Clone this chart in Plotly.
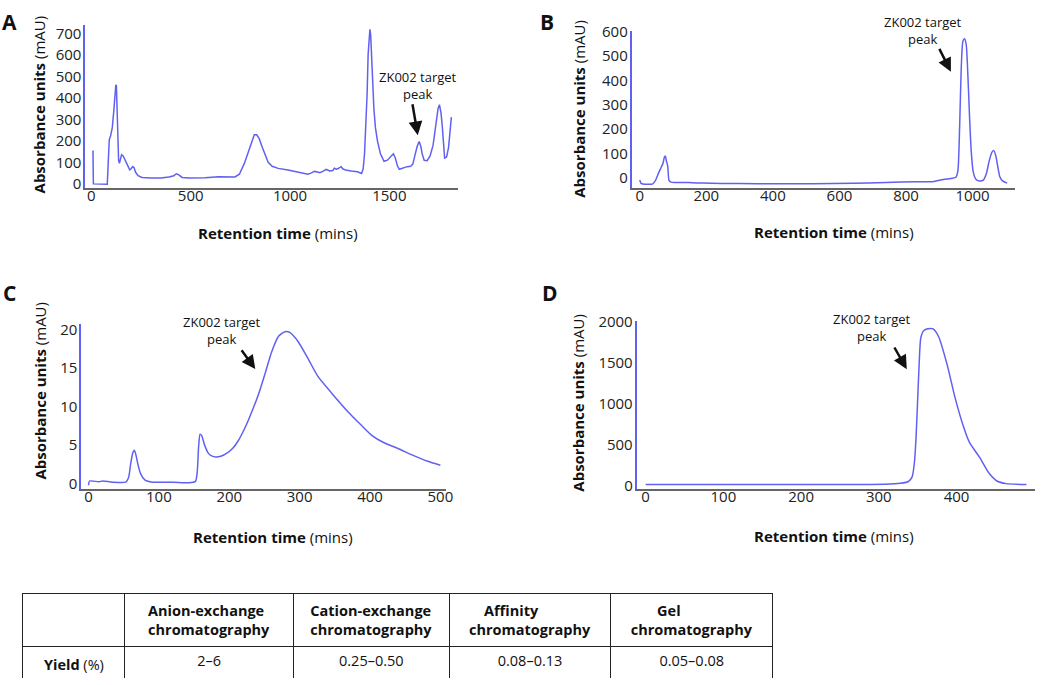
import plotly.graph_objects as go

# panel A - anion exchange
a_time = [8, 10, 80, 86, 90, 97, 105, 112, 118, 123, 126, 129, 133, 137, 141, 146, 152, 160, 168, 176,
          185, 193, 200, 208, 215, 222, 235, 255, 300, 350, 390, 415, 428, 440, 457, 490, 573, 640, 723, 745,
          770, 790, 808, 820, 832, 845, 860, 875, 890, 910, 940, 990, 1040, 1070, 1090, 1105, 1123, 1138, 1150, 1165,
          1182, 1200, 1215, 1223, 1232, 1240, 1257, 1265, 1280, 1307, 1340, 1360, 1368, 1375, 1382, 1388, 1393, 1398, 1402, 1406,
          1410, 1416, 1422, 1430, 1440, 1455, 1473, 1490, 1505, 1520, 1530, 1540, 1550, 1570, 1590, 1607, 1618, 1628, 1640, 1650,
          1658, 1665, 1675, 1690, 1705, 1720, 1735, 1745, 1752, 1760, 1767, 1772, 1778, 1788, 1798, 1806, 1812]
a_abs = [155, 0, -2, 150, 205, 225, 260, 330, 420, 460, 455, 330, 200, 110, 95, 120, 135, 130, 115, 95,
         75, 65, 70, 80, 75, 55, 38, 30, 27, 27, 32, 38, 47, 42, 30, 27, 29, 33, 32, 45,
         95, 150, 200, 228, 228, 210, 170, 130, 100, 82, 72, 64, 54, 50, 45, 50, 58, 55, 52, 58,
         67, 60, 62, 73, 68, 70, 80, 70, 64, 60, 56, 48, 70, 140, 260, 420, 600, 705, 718, 690,
         600, 460, 350, 260, 200, 140, 105, 110, 125, 140, 120, 85, 68, 75, 80, 82, 92, 130, 175, 197,
         175, 140, 110, 108, 130, 180, 280, 350, 368, 330, 260, 170, 120, 125, 170, 250, 310]

# panel B - cation exchange
b_time = [0, 4, 10, 38, 45, 50, 58, 65, 70, 74, 77, 80, 84, 88, 94, 147, 190, 300, 400, 640,
          740, 830, 880, 912, 940, 950, 956, 961, 966, 971, 976, 981, 986, 991, 996, 1002, 1010, 1020, 1033, 1042,
          1050, 1058, 1064, 1070, 1076, 1082, 1090, 1104]
b_abs = [-8, -22, -25, -25, -15, -2, 25, 45, 60, 85, 90, 70, 50, -10, -17, -19, -21, -23, -24, -22,
         -18, -15, -15, -6, -1, 3, 30, 200, 450, 560, 570, 545, 420, 250, 110, 25, -5, -12, -8, 20,
         70, 105, 112, 90, 45, 5, -12, -21]

# panel C - affinity
c_time = [0, 1.5, 15, 20, 34, 53, 57, 60, 63, 65, 67, 70, 74, 80, 91, 120, 143, 152, 154.5, 156.5,
          158.5, 161, 165, 170, 175, 181, 188, 195, 205, 213, 220, 227, 235, 242, 251, 260, 270, 279, 286, 298,
          312, 326, 345, 369, 383, 402, 420, 439, 463, 482, 500]
c_abs = [-0.2, 0.35, 0.25, 0.35, 0.2, 0.2, 0.8, 2.6, 4.0, 4.35, 3.9, 2.6, 1.3, 0.5, 0.2, 0.2, 0.12, 0.3, 1.5, 4.8,
         6.4, 6.2, 5.0, 4.0, 3.6, 3.45, 3.55, 3.85, 4.6, 5.6, 6.8, 8.2, 10.0, 11.7, 14.3, 17.0, 19.1, 19.7, 19.6, 18.4,
         16.2, 13.9, 11.8, 9.3, 8.0, 6.3, 5.3, 4.6, 3.6, 2.9, 2.4]

# panel D - gel
d_time = [0, 100, 200, 307, 328, 338, 343, 346, 348, 350, 352, 354, 358, 363, 370, 377, 388, 398, 409, 417,
          430, 441, 452, 464, 490]
d_abs = [14, 14, 14, 16, 28, 50, 110, 300, 600, 1050, 1500, 1800, 1890, 1912, 1910, 1815, 1472, 1075, 718, 520,
         341, 163, 56, 24, 14]

col_names = [("", ""), ("Anion-exchange", "chromatography"), ("Cation-exchange", "chromatography"),
             ("Affinity", "chromatography"), ("Gel", "chromatography")]
yield_vals = ["2–6", "0.25–0.50", "0.08–0.13", "0.05–0.08"]

W, H = 1045, 685
BLUE = "#6060f2"
FONT = "Open Sans"

panels = [
    # name, x, y, x-domain px, y-domain px (top, bottom), x range, y range, x ticks, y ticks, shape
    ("A", a_time, a_abs, (86, 461), (15, 182), [-30, 1845], [-18, 740], [0, 500, 1000, 1500], list(range(0, 701, 100)), "linear"),
    ("B", b_time, b_abs, (636, 1022), (21, 182), [-24, 1128], [-40, 604], list(range(0, 1001, 200)), list(range(0, 601, 100)), "spline"),
    ("C", c_time, c_abs, (82, 449), (321, 490), [-10, 508], [-0.63, 20.76], list(range(0, 501, 100)), list(range(0, 21, 5)), "spline"),
    ("D", d_time, d_abs, (641, 1042), (318, 490), [-11.5, 501], [-36, 2012], list(range(0, 401, 100)), list(range(0, 2001, 500)), "spline"),
]

fig = go.Figure()
layout = {}
for i, (name, xs, ys, xd, yd, xr, yr, xt, yt, shape) in enumerate(panels):
    n = "" if i == 0 else str(i + 1)
    fig.add_trace(go.Scatter(x=xs, y=ys, mode="lines", xaxis="x" + n, yaxis="y" + n,
                             line=dict(color=BLUE, width=1.5, shape=shape, smoothing=0.6),
                             showlegend=False, hoverinfo="skip"))
    layout["xaxis" + n] = dict(domain=[xd[0] / W, xd[1] / W], range=xr, tickvals=xt, anchor="y" + n,
                               showline=True, linecolor="#666", linewidth=1.5, showgrid=False, zeroline=False,
                               ticks="", ticklabelstandoff=-6,
                               tickfont=dict(size=15, color="#222", family=FONT), fixedrange=True)
    layout["yaxis" + n] = dict(domain=[1 - yd[1] / H, 1 - yd[0] / H], range=yr, tickvals=yt, anchor="x" + n,
                               showline=True, linecolor=BLUE, linewidth=2, showgrid=False, zeroline=False,
                               ticks="", ticklabelstandoff=-1,
                               tickfont=dict(size=15, color="#222", family=FONT), fixedrange=True)
fig.update_layout(**layout)

ann = []
def paper_text(txt, px, py, size, angle=0):
    ann.append(dict(text=txt, x=px / W, y=1 - py / H, xref="paper", yref="paper", showarrow=False,
                    textangle=angle, font=dict(size=size, color="#111", family=FONT),
                    xanchor="center", yanchor="middle"))

# panel letters
for letter, px, py in [("A", 10, 12), ("B", 551, 12), ("C", 10, 290), ("D", 554, 290)]:
    paper_text("<b>" + letter + "</b>", px, py, 21)

ytitle = "<b>Absorbance units</b> (mAU)"
xtitle = "<b>Retention time</b> (mins)"
for px, py in [(39, 97), (583, 101), (40, 390), (582, 402)]:
    paper_text(ytitle, px, py, 15, -90)
for px, py in [(280, 228), (840, 227), (275, 540), (840, 539)]:
    paper_text(xtitle, px, py, 15)

# target peak labels and arrows (text pos, arrow tail, arrow head) in data units
targets = [
    ("", (1643, 458), (1615, 377), (1643, 226)),
    ("2", (852, 603), (898, 535), (935, 435)),
    ("3", (190, 19.85), (216, 17.5), (237, 14.85)),
    ("4", (291, 1922), (319, 1702), (336, 1420)),
]
for n, (tx, ty), (ax, ay), (hx, hy) in targets:
    ann.append(dict(text="ZK002 target<br>peak", x=tx, y=ty, xref="x" + n, yref="y" + n, showarrow=False,
                    font=dict(size=13, color="#111", family=FONT), xanchor="center", yanchor="middle"))
    ann.append(dict(text="", x=hx, y=hy, ax=ax, ay=ay, xref="x" + n, yref="y" + n, axref="x" + n, ayref="y" + n,
                    showarrow=True, arrowhead=2, arrowsize=1.1, arrowwidth=2.5, arrowcolor="#111"))


# plotly table left-aligns the lines of a multi-line cell, so pad the short first lines
def header_cell(first, second):
    if not first:
        return ""
    pad = max(0, round((len(second) - len(first)) * 0.62))
    return "&nbsp;" * pad + first + "<br>" + second


fig.add_trace(go.Table(
    domain=dict(x=[23 / W, 779 / W], y=[0, 1 - 597 / H]),
    columnwidth=[102, 168, 156, 161, 162],
    header=dict(values=[header_cell(a, b) for a, b in col_names], height=50, align="center",
                line=dict(color="#222", width=1), fill=dict(color="white"),
                font=dict(size=14.5, color="#111", family=FONT, weight="bold")),
    cells=dict(values=[["<b>Yield</b> (%)"]] + [[v] for v in yield_vals], height=28, align="center",
               line=dict(color="#222", width=1), fill=dict(color="white"),
               font=dict(size=14.5, color="#111", family=FONT)),
))

fig.update_layout(width=W, height=H, margin=dict(l=0, r=0, t=0, b=0), paper_bgcolor="white",
                  plot_bgcolor="white", annotations=ann, font=dict(family=FONT))
fig.write_html("out.html", config={"displayModeBar": False},
               post_script="document.body.style.margin='0';")
